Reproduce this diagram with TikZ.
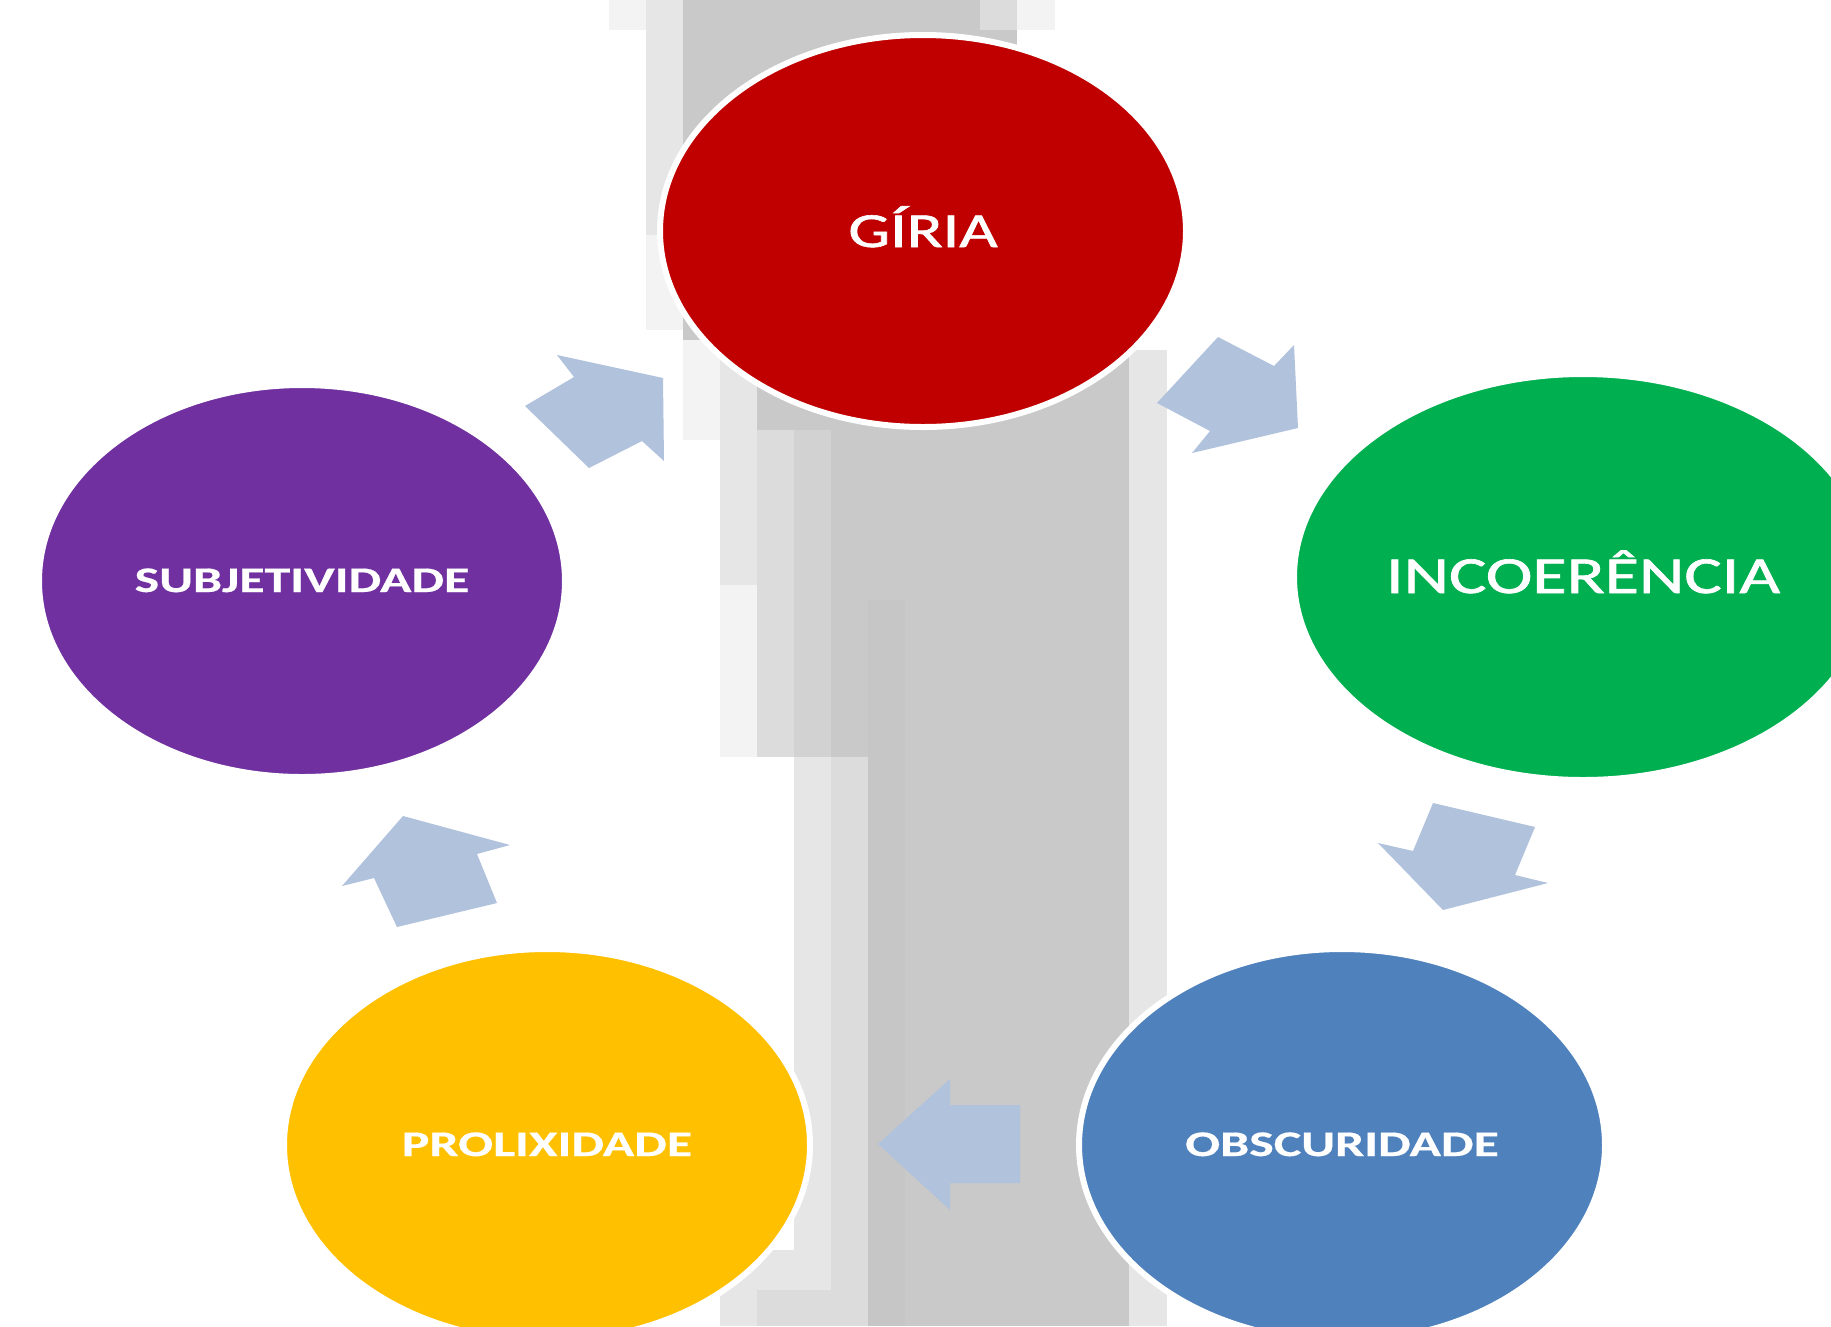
\documentclass[tikz,border=0pt]{standalone}
\usepackage{fontspec}
\setmainfont{Carlito}
\newfontfamily\regfont[FakeBold=1.2]{Carlito}
\newfontfamily\boldfont[FakeBold=0.4]{Carlito Bold}
\usepackage{graphicx}
\usetikzlibrary{shapes.geometric}
\definecolor{cred}{RGB}{192,0,0}
\definecolor{cgreen}{RGB}{0,176,80}
\definecolor{cpurple}{RGB}{112,48,160}
\definecolor{cyellow}{RGB}{255,192,0}
\definecolor{cblue}{RGB}{79,129,189}
\definecolor{arrowblue}{RGB}{176,194,220}
\definecolor{gcore}{RGB}{201,201,201}
\definecolor{gdark}{RGB}{198,198,198}
\definecolor{gmid}{RGB}{210,210,210}
\definecolor{gl1}{RGB}{243,243,243}
\definecolor{gl2}{RGB}{230,230,230}
\definecolor{gl3}{RGB}{220,220,220}
\tikzset{
  bubble/.style={ellipse, draw=white, line width=6pt, inner sep=0pt},
  blockarrow/.style={fill=arrowblue},
  lbl/.style={text=white, anchor=base, inner sep=0pt},
}
\newcommand{\lblreg}[2]{\scalebox{1.35}[1]{\regfont\fontsize{#1}{#1}\selectfont #2}}
\newcommand{\lblbold}[2]{\scalebox{1.44}[1]{\boldfont\fontsize{#1}{#1}\selectfont #2}}
\begin{document}
\begin{tikzpicture}[x=1pt,y=-1pt]
\clip (0,0) rectangle (1831,1326);
\fill[white] (0,0) rectangle (1831,1326);
% pixelated grey column
\fill[gl1] (609,0) rectangle (646,30);
\fill[gl2] (646,0) rectangle (683,235);
\fill[gl1] (646,235) rectangle (683,330);
\fill[gcore] (683,0) rectangle (1017,430);
\fill[gl3] (980,0) rectangle (1017,30);
\fill[gl1] (1017,0) rectangle (1055,30);
\fill[gl1] (683,340) rectangle (720,440);
\fill[gl2] (720,360) rectangle (757,585);
\fill[gl1] (720,585) rectangle (757,757);
\fill[gl3] (757,430) rectangle (794,757);
\fill[gcore] (794,360) rectangle (1129,1326);
\fill[gmid] (794,430) rectangle (831,757);
\fill[gcore] (1017,350) rectangle (1129,430);
\fill[gl2] (1129,350) rectangle (1167,1326);
\fill[gl2] (794,757) rectangle (831,1250);
\fill[gl3] (831,757) rectangle (868,1326);
\fill[gdark] (868,600) rectangle (905,1326);
\fill[gl2] (720,1250) rectangle (831,1326);
\fill[gl3] (757,1290) rectangle (831,1326);
% bubbles
\node[bubble, fill=cred, minimum width=526pt, minimum height=392pt] (giria) at (923,231) {};
\node[bubble, fill=cgreen, minimum width=578pt, minimum height=406pt] (incoer) at (1583,577) {};
\node[bubble, fill=cblue, minimum width=526pt, minimum height=392pt] (obsc) at (1342,1145) {};
\node[bubble, fill=cyellow, minimum width=526pt, minimum height=392pt] (prolix) at (547,1145) {};
\node[bubble, fill=cpurple, minimum width=526pt, minimum height=392pt] (subj) at (302,581) {};
% labels
\node[lbl] (tgiria) at (923,247) {\lblreg{49}{GÍRIA}};
\node[lbl] (tincoer) at (1583,593) {\lblreg{52}{INCOERÊNCIA}};
\node[lbl] (tobsc) at (1342,1156) {\lblbold{36}{OBSCURIDADE}};
\node[lbl] (tprolix) at (547,1156) {\lblbold{36}{PROLIXIDADE}};
\node[lbl] (tsubj) at (302,592) {\lblbold{36}{SUBJETIVIDADE}};
% block arrows
\fill[blockarrow] (525,406) -- (574,377) -- (557,355) -- (663,378) -- (664,461) -- (642,441) -- (589,468) -- cycle;
\fill[blockarrow] (1157,403) -- (1218,337) -- (1274,366) -- (1294,345) -- (1298,428) -- (1192,453) -- (1210,431) -- cycle;
\fill[blockarrow] (1433,803) -- (1535,827) -- (1515,875) -- (1548,883) -- (1443,910) -- (1378,843) -- (1413,851) -- cycle;
\fill[blockarrow] (878,1144) -- (950,1079) -- (950,1105) -- (1020,1105) -- (1020,1183) -- (950,1183) -- (950,1210) -- cycle;
\fill[blockarrow] (403,816) -- (510,845) -- (477,854) -- (497,903) -- (397,927) -- (374,878) -- (342,886) -- cycle;
\end{tikzpicture}
\end{document}
